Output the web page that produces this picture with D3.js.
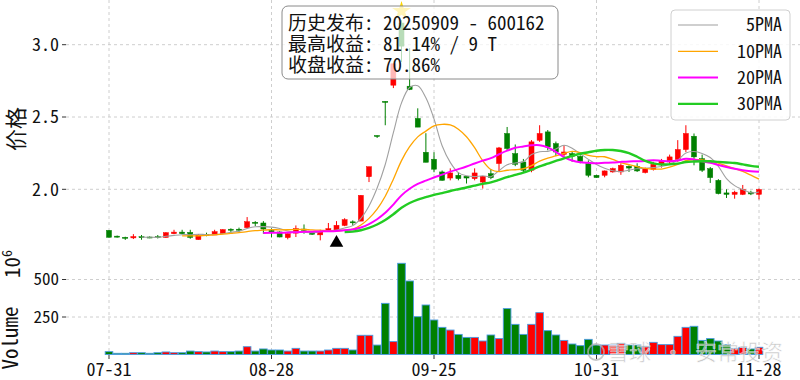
<!DOCTYPE html>
<html><head><meta charset="utf-8">
<script src="https://cdn.jsdelivr.net/npm/d3@7"></script>
<style>body{margin:0;background:#fff}svg{display:block}text{font-family:"Noto Sans Mono CJK SC","DejaVu Sans Mono","Noto Sans CJK SC",monospace}</style>
</head><body><svg id="c" width="800" height="380"></svg>
<script>
const tickIdx = [0, 20, 40, 60, 80];
const tickLabels = ["07-31", "08-28", "09-25", "10-31", "11-28"];
const opens = [1.716,1.676,1.668,1.664,1.672,1.670,1.672,1.667,1.693,1.704,1.702,1.652,1.688,1.684,1.693,1.724,1.724,1.735,1.772,1.767,1.716,1.705,1.666,1.697,1.725,1.704,1.685,1.711,1.716,1.750,1.775,1.780,2.087,2.372,2.608,2.720,3.150,2.713,2.490,2.256,2.208,2.120,2.078,2.097,2.090,2.074,2.050,2.108,2.178,2.386,2.247,2.189,2.132,2.339,2.397,2.316,2.242,2.247,2.228,2.178,2.097,2.097,2.120,2.120,2.159,2.159,2.116,2.138,2.171,2.189,2.206,2.275,2.367,2.212,2.143,2.062,1.975,1.965,1.965,1.980,1.965];
const highs = [1.718,1.680,1.672,1.690,1.684,1.674,1.684,1.703,1.720,1.720,1.720,1.690,1.700,1.720,1.724,1.730,1.735,1.808,1.780,1.780,1.730,1.710,1.695,1.750,1.757,1.710,1.720,1.767,1.780,1.800,1.785,1.960,2.156,2.372,2.608,2.868,3.170,2.976,2.560,2.388,2.256,2.130,2.145,2.118,2.092,2.145,2.090,2.140,2.293,2.431,2.310,2.210,2.340,2.443,2.410,2.330,2.305,2.258,2.235,2.200,2.100,2.130,2.150,2.180,2.166,2.180,2.150,2.190,2.210,2.240,2.340,2.443,2.386,2.240,2.154,2.070,2.000,1.990,2.030,1.990,2.005];
const lows = [1.666,1.666,1.650,1.656,1.651,1.662,1.660,1.665,1.690,1.688,1.658,1.652,1.675,1.684,1.690,1.700,1.705,1.730,1.746,1.693,1.667,1.668,1.654,1.670,1.693,1.685,1.647,1.711,1.716,1.745,1.750,1.780,2.050,2.355,2.443,2.700,2.880,2.686,2.430,2.187,2.118,2.060,2.062,2.062,2.040,2.062,2.005,2.070,2.120,2.270,2.160,2.118,2.118,2.328,2.270,2.230,2.224,2.190,2.180,2.083,2.080,2.083,2.115,2.100,2.120,2.120,2.110,2.130,2.150,2.170,2.190,2.258,2.166,2.120,2.044,1.965,1.940,1.935,1.960,1.960,1.930];
const closes = [1.668,1.670,1.664,1.673,1.669,1.667,1.667,1.700,1.704,1.693,1.667,1.684,1.684,1.707,1.721,1.720,1.719,1.776,1.768,1.725,1.705,1.670,1.693,1.728,1.716,1.689,1.705,1.728,1.751,1.790,1.770,1.958,2.156,2.369,2.605,2.868,2.990,2.690,2.430,2.187,2.139,2.062,2.113,2.074,2.078,2.113,2.090,2.080,2.286,2.282,2.173,2.132,2.328,2.386,2.293,2.258,2.258,2.228,2.194,2.097,2.081,2.127,2.143,2.166,2.147,2.127,2.143,2.173,2.196,2.224,2.275,2.386,2.224,2.132,2.081,1.970,1.965,1.980,1.998,1.968,1.998];
const volumes = [19,8,8,12,12,8,12,17,12,12,23,19,17,23,19,19,23,52,23,37,30,30,23,41,23,23,23,30,41,41,30,128,128,63,341,86,608,490,252,330,230,181,163,134,114,114,90,130,106,306,201,134,201,279,159,130,94,70,59,101,63,63,63,75,63,63,52,81,66,66,121,181,188,94,106,90,66,41,48,37,48];
const maPeriods = [5, 10, 20, 30];
const maLabels = [" 5PMA", "10PMA", "20PMA", "30PMA"];
const priceTicks = [2.0, 2.5, 3.0];
const volTicks = [250, 500];
const pubIdx = 28, peakIdx = 36;
const infoLines = ["历史发布: 20250909 - 600162", "最高收益: 81.14% / 9 T", "收盘收益: 70.86%"];

const svg = d3.select("#c");
const left = 66, right = 800;
const x = d3.scaleLinear().domain([0, 80]).range([109, 759]);
const step = x(1) - x(0);
const y = d3.scaleLinear().domain([2, 3]).range([189.3, 44.7]);
const yv = d3.scaleLinear().domain([0, 500]).range([354.5, 279.5]);
const UP = "#ff0000", DN = "#008000";
const maColors = ["#a0a0a0", "#ffa500", "#ff00ff", "#22cc22"];
const maWidths = [1.1, 1.3, 2.0, 2.4];
const grid = "#c8c8c8";

// grid
const g = svg.append("g");
tickIdx.forEach(i => g.append("line").attr("x1", x(i)).attr("x2", x(i)).attr("y1", 0).attr("y2", 355)
  .attr("stroke", grid).attr("stroke-dasharray", "3,3").attr("stroke-width", 0.9));
priceTicks.forEach(p => g.append("line").attr("x1", left).attr("x2", right).attr("y1", y(p)).attr("y2", y(p))
  .attr("stroke", grid).attr("stroke-dasharray", "3,3").attr("stroke-width", 0.9));
volTicks.forEach(v => g.append("line").attr("x1", left).attr("x2", right).attr("y1", yv(v)).attr("y2", yv(v))
  .attr("stroke", grid).attr("stroke-dasharray", "3,3").attr("stroke-width", 0.9));

// axes
const ax = svg.append("g");
priceTicks.forEach(p => {
  ax.append("line").attr("x1", left - 4).attr("x2", left).attr("y1", y(p)).attr("y2", y(p)).attr("stroke", "#333");
  ax.append("text").attr("x", left - 7).attr("y", y(p)).attr("dy", "0.35em").attr("text-anchor", "end")
    .attr("font-size", 18).attr("fill", "#111").text(p.toFixed(1));
});
volTicks.forEach(v => {
  ax.append("line").attr("x1", left - 4).attr("x2", left).attr("y1", yv(v)).attr("y2", yv(v)).attr("stroke", "#333");
  ax.append("text").attr("x", left - 7).attr("y", yv(v)).attr("dy", "0.35em").attr("text-anchor", "end")
    .attr("font-size", 17).attr("fill", "#111").text(v);
});
tickIdx.forEach((i, k) => {
  ax.append("line").attr("x1", x(i)).attr("x2", x(i)).attr("y1", 355).attr("y2", 359).attr("stroke", "#333");
  ax.append("text").attr("x", x(i)).attr("y", 376).attr("text-anchor", "middle")
    .attr("font-size", 18).attr("fill", "#111").text(tickLabels[k]);
});
svg.append("text").attr("transform", "translate(24,129) rotate(-90)").attr("text-anchor", "middle")
  .attr("font-size", 22).attr("fill", "#111").text("价格");
svg.append("text").attr("transform", "translate(18,338) rotate(-90)").attr("text-anchor", "middle")
  .attr("font-size", 21).attr("fill", "#111").text("Volume");
const off = svg.append("text").attr("transform", "translate(20,278) rotate(-90)").attr("text-anchor", "start")
  .attr("font-size", 21).attr("fill", "#111");
off.append("tspan").text("10");
off.append("tspan").attr("font-size", 14).attr("dy", -8).text("6");

// volume bars
const vb = svg.append("g");
volumes.forEach((v, i) => {
  const up = closes[i] >= opens[i];
  vb.append("rect").attr("x", x(i) - step * 0.47).attr("width", step * 0.94)
    .attr("y", yv(v)).attr("height", yv(0) - yv(v))
    .attr("fill", up ? UP : DN).attr("stroke", "#4a9be0").attr("stroke-width", 0.9);
});

// candles
const cg = svg.append("g");
const bw = step * 0.62;
opens.forEach((o, i) => {
  const c = closes[i], up = c >= o, col = up ? UP : DN;
  cg.append("line").attr("x1", x(i)).attr("x2", x(i)).attr("y1", y(highs[i])).attr("y2", y(lows[i]))
    .attr("stroke", col).attr("stroke-width", 1);
  const top = y(Math.max(o, c)), bot = y(Math.min(o, c));
  cg.append("rect").attr("x", x(i) - bw / 2).attr("width", bw).attr("y", top).attr("height", Math.max(bot - top, 1))
    .attr("fill", col).attr("stroke", col).attr("stroke-width", 0.5);
});

// moving averages
maPeriods.forEach((n, k) => {
  const pts = [];
  for (let i = n - 1; i < closes.length; i++) pts.push([i, d3.mean(closes.slice(i - n + 1, i + 1))]);
  svg.append("path").datum(pts)
    .attr("d", d3.line().x(d => x(d[0])).y(d => y(d[1])).curve(d3.curveCatmullRom))
    .attr("fill", "none").attr("stroke", maColors[k]).attr("stroke-width", maWidths[k]);
});

// markers
svg.append("path").attr("d", d3.symbol(d3.symbolTriangle, 80)())
  .attr("transform", `translate(${x(pubIdx)},${y(lows[pubIdx] * 0.95)})`).attr("fill", "#000");
svg.append("path").attr("d", d3.symbol(d3.symbolStar, 110)())
  .attr("transform", `translate(${x(peakIdx)},${y(highs[peakIdx] * 1.02)})`).attr("fill", "#ffd700");

// info box
svg.append("rect").attr("x", 282).attr("y", 6).attr("width", 276).attr("height", 73).attr("rx", 6)
  .attr("fill", "#fff").attr("fill-opacity", 0.72).attr("stroke", "#8a8a8a").attr("stroke-width", 1);
infoLines.forEach((t, k) => svg.append("text").attr("x", 288).attr("y", 23.5 + k * 21).attr("dy", "0.36em")
  .attr("font-size", 19).attr("fill", "#111").attr("xml:space", "preserve").text(t));

// legend
const lg = svg.append("g");
lg.append("rect").attr("x", 671).attr("y", 10).attr("width", 119).attr("height", 110).attr("rx", 4)
  .attr("fill", "#fff").attr("fill-opacity", 0.85).attr("stroke", "#d0d0d0");
maLabels.forEach((t, k) => {
  const yy = 25 + k * 26.3;
  lg.append("line").attr("x1", 678).attr("x2", 718).attr("y1", yy).attr("y2", yy)
    .attr("stroke", maColors[k]).attr("stroke-width", maWidths[k]);
  lg.append("text").attr("x", 782).attr("y", yy).attr("dy", "0.36em").attr("text-anchor", "end")
    .attr("font-size", 18).attr("fill", "#111").attr("xml:space", "preserve").text(t);
});

// watermark
const wm = svg.append("g").attr("opacity", 0.75);
wm.append("circle").attr("cx", 596).attr("cy", 352).attr("r", 8).attr("fill", "none").attr("stroke", "#b5b5b5").attr("stroke-width", 1.8);
wm.append("text").attr("x", 607).attr("y", 352).attr("dy", "0.36em").attr("font-size", 22)
  .attr("fill", "#b5b5b5").attr("stroke", "#fff").attr("stroke-width", 0.6).text("雪球 · 安常投资");
</script></body></html>
